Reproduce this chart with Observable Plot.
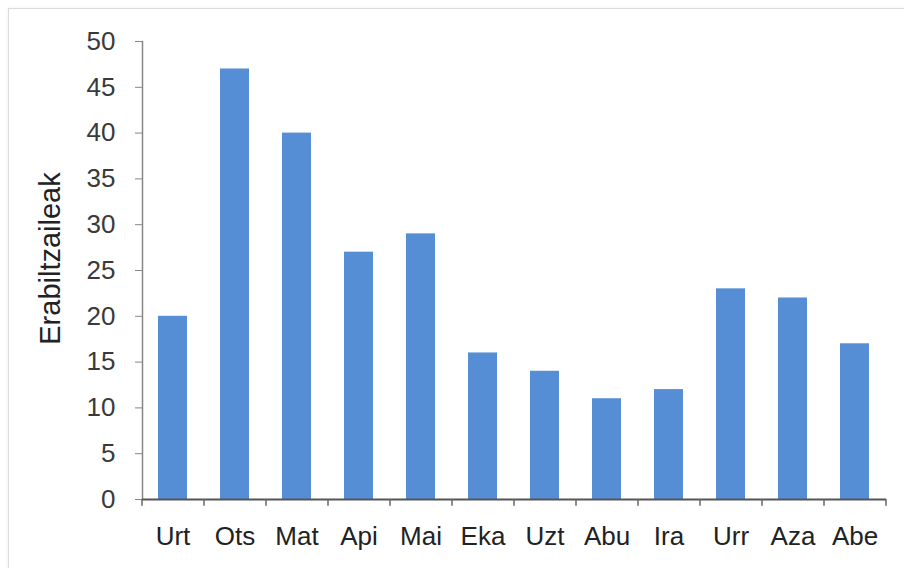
<!DOCTYPE html>
<html>
<head>
<meta charset="utf-8">
<script src="https://cdn.jsdelivr.net/npm/d3@7"></script>
<script src="https://cdn.jsdelivr.net/npm/@observablehq/plot@0.6"></script>
<style>
  html, body { margin: 0; padding: 0; background: #fff; }
  body { width: 904px; height: 568px; position: relative; overflow: hidden; font-family: "Liberation Sans", Arial, sans-serif; }
  #frame { position: absolute; left: 8px; top: 8px; width: 910px; height: 580px; border: 1px solid #dcdcdc; box-shadow: 0 0 3px rgba(0,0,0,0.08); }
  #chart { position: absolute; left: 0; top: 0; }
</style>
</head>
<body>
<div id="frame"></div>
<div id="chart"></div>
<script>
const months = ["Urt", "Ots", "Mat", "Api", "Mai", "Eka", "Uzt", "Abu", "Ira", "Urr", "Aza", "Abe"];
const users = [20, 47, 40, 27, 29, 16, 14, 11, 12, 23, 22, 17];
const yTicks = [0, 5, 10, 15, 20, 25, 30, 35, 40, 45, 50];
const yLabel = "Erabiltzaileak";

const data = months.map((m, i) => ({month: m, value: users[i]}));

const W = 904, H = 568;
const mL = 142, mR = 18, mT = 41, mB = 69;
const step = (W - mL - mR) / months.length;

const chart = Plot.plot({
  width: W,
  height: H,
  marginLeft: mL,
  marginRight: mR,
  marginTop: mT,
  marginBottom: mB,
  style: {fontFamily: "'Liberation Sans', Arial, sans-serif", fontSize: "26px", color: "#3a3a3a", background: "transparent"},
  x: {domain: months, paddingInner: 0.53, paddingOuter: 0.265},
  y: {domain: [0, 50]},
  marks: [
    Plot.barY(data, {x: "month", y: "value", fill: "#558ed5"}),
    Plot.axisY({ticks: yTicks, tickSize: 7, tickPadding: 20, stroke: "#868686", fill: "#3a3a3a", label: null, fontSize: 26}),
    Plot.text([yLabel], {text: d => d, frameAnchor: "left", textAnchor: "middle", rotate: -90, dx: -92, dy: -12, fill: "#222", fontSize: 29}),
    Plot.axisX({tickSize: 0, tickPadding: 27, fill: "#222", label: null, fontSize: 26}),
    Plot.frame({anchor: "left", stroke: "#868686", strokeWidth: 1.5}),
    Plot.ruleY([0], {stroke: "#555", strokeWidth: 2}),
    Plot.ruleX(months, {x: d => d, dx: -step / 2, y1: 0, y2: -0.75, stroke: "#666", strokeWidth: 1.5}),
    Plot.ruleX(months.slice(-1), {x: d => d, dx: step / 2, y1: 0, y2: -0.75, stroke: "#666", strokeWidth: 1.5})
  ]
});
document.getElementById("chart").appendChild(chart);
</script>
</body>
</html>
